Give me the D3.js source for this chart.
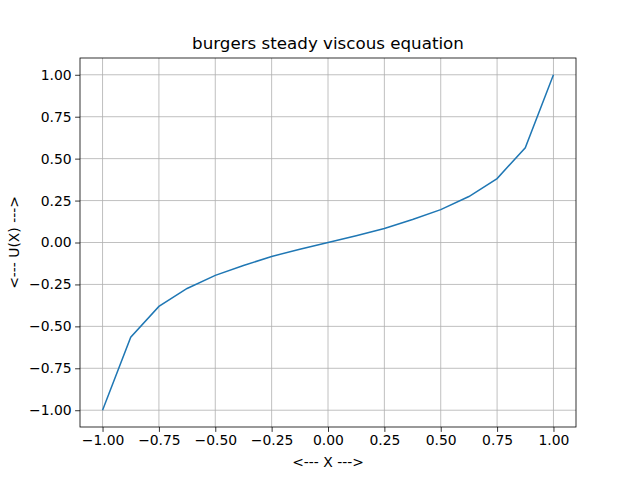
<!DOCTYPE html>
<html><head><meta charset="utf-8">
<script src="https://cdn.jsdelivr.net/npm/d3@7"></script>
<style>body{margin:0;background:#fff}text{font-family:"DejaVu Sans",sans-serif}</style>
</head><body><svg id="c" width="640" height="480"></svg>
<script>
const xs = [-1,-0.875,-0.75,-0.625,-0.5,-0.375,-0.25,-0.125,0,0.125,0.25,0.375,0.5,0.625,0.75,0.875,1];
const us = [-1,-0.565,-0.381,-0.274,-0.196,-0.137,-0.083,-0.04,0,0.04,0.083,0.137,0.196,0.274,0.381,0.565,1];
const xTicks = [-1,-0.75,-0.5,-0.25,0,0.25,0.5,0.75,1];
const yTicks = [-1,-0.75,-0.5,-0.25,0,0.25,0.5,0.75,1];
const L=80,R=576,T=58,B=427;
const svg=d3.select("#c");
const x=d3.scaleLinear().domain([-1.1,1.1]).range([L,R]);
const y=d3.scaleLinear().domain([-1.1,1.1]).range([B,T]);
const g=svg.append("g");
xTicks.forEach(t=>g.append("line").attr("x1",x(t)).attr("x2",x(t)).attr("y1",T).attr("y2",B).attr("stroke","#b0b0b0").attr("stroke-width",0.8));
yTicks.forEach(t=>g.append("line").attr("y1",y(t)).attr("y2",y(t)).attr("x1",L).attr("x2",R).attr("stroke","#b0b0b0").attr("stroke-width",0.8));
svg.append("path").datum(xs.map((v,i)=>[v,us[i]])).attr("fill","none").attr("stroke","#1f77b4").attr("stroke-width",1.5)
  .attr("d",d3.line().x(d=>x(d[0])).y(d=>y(d[1])));
const xa=svg.append("g").attr("transform",`translate(0,${B})`).call(d3.axisBottom(x).tickValues(xTicks).tickFormat(d3.format(".2f")).tickSize(4.9).tickPadding(3.5));
const ya=svg.append("g").attr("transform",`translate(${L},0)`).call(d3.axisLeft(y).tickValues(yTicks).tickFormat(d3.format(".2f")).tickSize(4.9).tickPadding(3.5));
[xa,ya].forEach(a=>{a.selectAll("text").attr("font-size",13.9).attr("fill","#000").attr("font-family","DejaVu Sans");a.select(".domain").remove();a.selectAll("line").attr("stroke","#000").attr("stroke-width",0.8);});
svg.append("rect").attr("x",L).attr("y",T).attr("width",R-L).attr("height",B-T).attr("fill","none").attr("stroke","#000").attr("stroke-width",0.8);
svg.append("text").attr("x",(L+R)/2).attr("y",49).attr("text-anchor","middle").attr("font-size",16.7).text("burgers steady viscous equation");
svg.append("text").attr("x",(L+R)/2).attr("y",467).attr("text-anchor","middle").attr("font-size",13.9).text("<--- X --->");
svg.append("text").attr("transform",`translate(19,${(T+B)/2}) rotate(-90)`).attr("text-anchor","middle").attr("font-size",13.9).text("<--- U(X) --->");
</script></body></html>
